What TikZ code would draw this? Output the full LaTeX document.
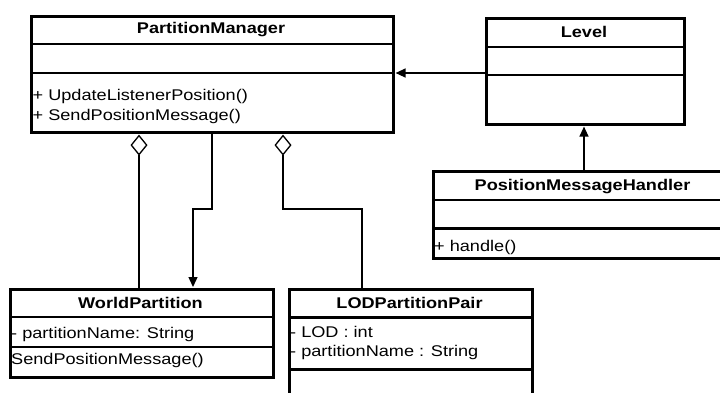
\documentclass[tikz,border=0pt]{standalone}
\usepackage{fontspec}
\setmainfont{Liberation Sans}[FakeStretch=1.17]
\usetikzlibrary{arrows.meta}

\tikzset{
  umlbox/.style={draw, line width=2.6pt, fill=white, anchor=north west, inner sep=0pt},
  umldiv/.style={line width=2.6pt},
  umltitle/.style={font=\fontsize{15.5}{18}\selectfont\bfseries, anchor=base, inner sep=0pt},
  umlmember/.style={font=\fontsize{15.5}{18}\selectfont, anchor=base west, inner sep=0pt},
  umllink/.style={line width=1.3pt},
  umlassoc/.style={umllink, -{Triangle[length=10pt,width=9pt]}, shorten >=1pt},
  umlagg/.style={umllink, {Diamond[open,length=21pt,width=17pt]}-, shorten <=1pt},
}

\begin{document}
\begin{tikzpicture}[x=1pt,y=-1pt]
\useasboundingbox (0,0) rectangle (720,392);

% PartitionManager
\node[umlbox, minimum width=362pt, minimum height=116pt] (pm) at (30,15) {};
\draw[umldiv] (30,44) -- (392,44);
\draw[umldiv] (30,73) -- (392,73);
\node[umltitle] (pmT) at (211,33.3) {PartitionManager};
\node[umlmember] (pmM1) at (32.5,100.5) {+ UpdateListenerPosition()};
\node[umlmember] (pmM2) at (32.5,120.5) {+ SendPositionMessage()};

% Level
\node[umlbox, minimum width=198pt, minimum height=106pt] (level) at (485,17) {};
\draw[umldiv] (485,47) -- (683,47);
\draw[umldiv] (485,75) -- (683,75);
\node[umltitle] (levelT) at (584,37.5) {Level};

% PositionMessageHandler
\node[umlbox, minimum width=301pt, minimum height=87pt] (pmh) at (432,170) {};
\draw[umldiv] (432,200) -- (733,200);
\draw[umldiv] (432,228.5) -- (733,228.5);
\node[umltitle] (pmhT) at (582.5,190) {PositionMessageHandler};
\node[umlmember] (pmhM1) at (434,251.5) {+ handle()};

% WorldPartition
\node[umlbox, minimum width=263pt, minimum height=88pt] (wp) at (9,288) {};
\draw[umldiv] (9,317) -- (272,317);
\draw[umldiv] (9,347) -- (272,347);
\node[umltitle] (wpT) at (140.5,308) {WorldPartition};
\node[umlmember] (wpA1) at (11,338.3) {- partitionName: String};
\node[umlmember] (wpM1) at (11,364.3) {SendPositionMessage()};

% LODPartitionPair
\node[umlbox, minimum width=243pt, minimum height=115pt] (lod) at (288,288) {};
\draw[umldiv] (288,317.5) -- (531,317.5);
\draw[umldiv] (288,369.5) -- (531,369.5);
\node[umltitle] (lodT) at (409.5,308) {LODPartitionPair};
\node[umlmember] (lodA1) at (290,337.3) {- LOD : int};
\node[umlmember] (lodA2) at (290,356.8) {- partitionName : String};

% routing points of the connectors
\coordinate (j1) at (139,0);
\coordinate (j2) at (212,209);
\coordinate (j3) at (193,209);
\coordinate (j4) at (283,209);
\coordinate (j5) at (362,209);
\coordinate (j6) at (0,73);
\coordinate (j7) at (584,0);

% connectors
\draw[umlagg] (pm.south -| j1) -- (wp.north -| j1);
\draw[umlassoc] (pm.south -| j2) -- (j2) -- (j3) -- (wp.north -| j3);
\draw[umlagg] (pm.south -| j4) -- (j4) -- (j5) -- (lod.north -| j5);
\draw[umlassoc] (level.west |- j6) -- (pm.east |- j6);
\draw[umlassoc] (pmh.north -| j7) -- (level.south -| j7);
\end{tikzpicture}
\end{document}
